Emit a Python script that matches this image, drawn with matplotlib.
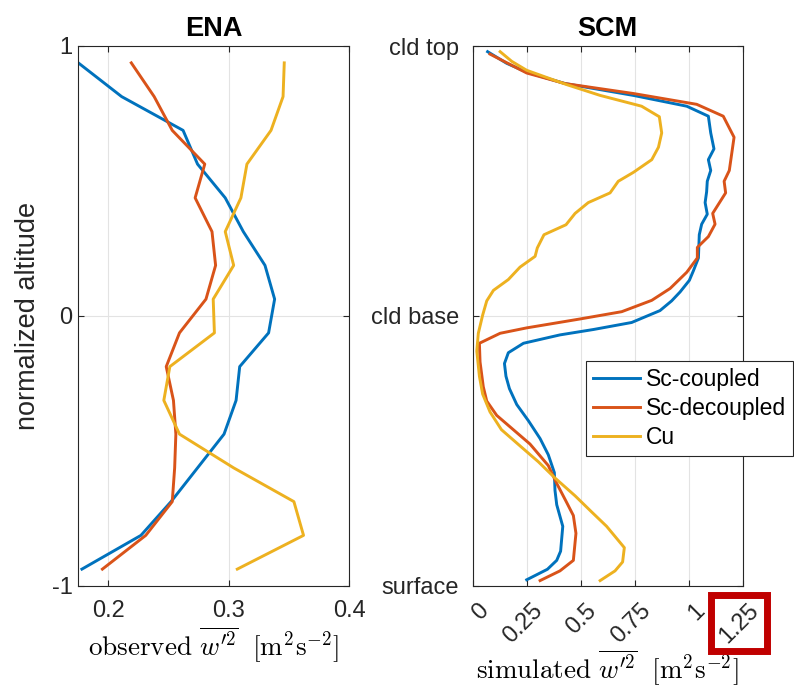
import matplotlib.pyplot as plt
from matplotlib.patches import Rectangle
from matplotlib.transforms import ScaledTranslation

plt.rcParams['font.family'] = ['Liberation Sans', 'DejaVu Sans']
plt.rcParams['mathtext.fontset'] = 'cm'

# colores tipo MATLAB
c_cpl = '#0072BD'
c_dec = '#D95319'
c_cu = '#EDB120'

# ENA: perfiles observados (centros de bin en altura normalizada)
z_obs = [0.9375, 0.8125, 0.6875, 0.5625, 0.4375, 0.3125, 0.1875, 0.0625,
         -0.0625, -0.1875, -0.3125, -0.4375, -0.5625, -0.6875, -0.8125, -0.9375]
obs_cpl = [0.175, 0.211, 0.262, 0.274, 0.297, 0.312, 0.330, 0.338,
           0.333, 0.309, 0.306, 0.296, 0.274, 0.252, 0.227, 0.178]
obs_dec = [0.219, 0.238, 0.253, 0.280, 0.272, 0.286, 0.289, 0.281,
           0.259, 0.248, 0.254, 0.256, 0.255, 0.253, 0.231, 0.195]
obs_cu = [0.346, 0.345, 0.335, 0.315, 0.310, 0.297, 0.304, 0.287,
          0.288, 0.251, 0.246, 0.259, 0.304, 0.354, 0.362, 0.307]

# SCM: perfiles simulados
scm_cpl_z = [0.979, 0.936, 0.903, 0.861, 0.817, 0.777, 0.740, 0.678, 0.619, 0.579,
             0.539, 0.499, 0.460, 0.420, 0.377, 0.340, 0.301, 0.215, 0.168, 0.132,
             0.089, 0.056, 0.020, -0.024, -0.050, -0.070, -0.101, -0.136, -0.176,
             -0.223, -0.269, -0.328, -0.388, -0.454, -0.514, -0.580, -0.646, -0.699,
             -0.779, -0.871, -0.905, -0.938, -0.977]
scm_cpl = [0.069, 0.157, 0.250, 0.427, 0.744, 0.991, 1.091, 1.102, 1.117, 1.091,
           1.102, 1.086, 1.083, 1.076, 1.086, 1.060, 1.049, 1.045, 1.022, 1.003,
           0.960, 0.921, 0.867, 0.736, 0.559, 0.404, 0.235, 0.165, 0.147,
           0.154, 0.170, 0.204, 0.258, 0.312, 0.350, 0.378, 0.381, 0.389,
           0.417, 0.407, 0.389, 0.346, 0.250]

scm_dec_z = [0.970, 0.900, 0.861, 0.824, 0.784, 0.740, 0.662, 0.539, 0.499, 0.456,
             0.380, 0.340, 0.294, 0.254, 0.215, 0.162, 0.102, 0.058, 0.016, -0.011,
             -0.044, -0.064, -0.101, -0.170, -0.262, -0.315, -0.368, -0.421, -0.474,
             -0.554, -0.620, -0.686, -0.739, -0.805, -0.905, -0.944, -0.980]
scm_dec = [0.080, 0.250, 0.427, 0.744, 1.037, 1.160, 1.210, 1.188, 1.164, 1.171,
           1.111, 1.122, 1.091, 1.040, 1.040, 0.991, 0.914, 0.829, 0.690, 0.497,
           0.250, 0.127, 0.031, 0.034, 0.049, 0.065, 0.111, 0.188, 0.265,
           0.350, 0.389, 0.432, 0.466, 0.478, 0.466, 0.404, 0.312]

scm_cu_z = [0.979, 0.943, 0.910, 0.857, 0.817, 0.777, 0.738, 0.678, 0.625, 0.579,
            0.532, 0.499, 0.456, 0.420, 0.380, 0.338, 0.301, 0.252, 0.221, 0.181,
            0.135, 0.095, 0.056, 0.003, -0.064, -0.130, -0.223, -0.289, -0.355,
            -0.421, -0.481, -0.540, -0.600, -0.666, -0.726, -0.779, -0.858, -0.911,
            -0.944, -0.980]
scm_cu = [0.127, 0.181, 0.250, 0.435, 0.590, 0.782, 0.864, 0.875, 0.860, 0.829,
          0.744, 0.674, 0.636, 0.535, 0.474, 0.432, 0.330, 0.299, 0.289, 0.219,
          0.165, 0.096, 0.065, 0.046, 0.026, 0.019, 0.031, 0.046, 0.080,
          0.133, 0.219, 0.304, 0.381, 0.474, 0.551, 0.620, 0.702, 0.694,
          0.659, 0.590]

etiquetas = ['Sc-coupled', 'Sc-decoupled', 'Cu']
ticks_obs = [0.2, 0.3, 0.4]
ticks_scm = [0, 0.25, 0.5, 0.75, 1, 1.25]
ticklab_scm = ['0', '0.25', '0.5', '0.75', '1', '1.25']
ylab_scm = ['surface', 'cld base', 'cld top']

fs_tick = 17     # tamaño de los números de los ejes
fs_lab = 19.5    # etiquetas y títulos
gris = '#262626'

W, H = 794, 688
fig = plt.figure(figsize=(W / 100, H / 100), dpi=100)
ax1 = fig.add_axes([78.3 / W, 1 - 586 / H, 271 / W, 540 / H])
ax2 = fig.add_axes([472.7 / W, 1 - 586 / H, 270 / W, 540 / H])

lw = 2.1
ax1.plot(obs_cpl, z_obs, color=c_cpl, lw=lw)
ax1.plot(obs_dec, z_obs, color=c_dec, lw=lw)
ax1.plot(obs_cu, z_obs, color=c_cu, lw=lw)

l1, = ax2.plot(scm_cpl, scm_cpl_z, color=c_cpl, lw=lw)
l2, = ax2.plot(scm_dec, scm_dec_z, color=c_dec, lw=lw)
l3, = ax2.plot(scm_cu, scm_cu_z, color=c_cu, lw=lw)

for ax in (ax1, ax2):
    ax.set_ylim(-1, 1)
    ax.set_yticks([-1, 0, 1])
    ax.grid(True, color='#e3e3e3', lw=0.8)
    ax.set_axisbelow(True)
    ax.tick_params(direction='in', top=True, right=True, length=4, width=0.8,
                   color=gris, labelsize=fs_tick, labelcolor=gris)
    for s in ax.spines.values():
        s.set_color(gris)
        s.set_linewidth(0.8)

ax1.set_xlim(0.175, 0.4)
ax1.set_xticks(ticks_obs)
ax1.set_yticklabels(['-1', '0', '1'])
ax1.tick_params(axis='x', pad=10)
ax1.tick_params(axis='y', pad=4)
ax1.set_ylabel('normalized altitude', fontsize=fs_lab, color=gris, labelpad=8)
ax1.set_xlabel(r'$\mathrm{observed}\ \overline{w^{\prime 2}}\ \ [\mathrm{m^2 s^{-2}}]$',
               fontsize=fs_lab, labelpad=2)
ax1.set_title('ENA', fontsize=fs_lab, fontweight='bold', pad=7)

ax2.set_xlim(0, 1.25)
ax2.set_xticks(ticks_scm)
ax2.set_xticklabels(ticklab_scm, rotation=45, ha='right', va='top',
                    rotation_mode='anchor')
ax2.tick_params(axis='x', pad=9)
ax2.tick_params(axis='y', pad=10)
ax2.set_yticklabels(ylab_scm)
# corro un poco las etiquetas giradas hacia la derecha
desp = ScaledTranslation(5 / 100, -1 / 100, fig.dpi_scale_trans)
for t in ax2.get_xticklabels():
    t.set_transform(t.get_transform() + desp)
ax2.set_xlabel(r'$\mathrm{simulated}\ \overline{w^{\prime 2}}\ \ [\mathrm{m^2 s^{-2}}]$',
               fontsize=fs_lab, labelpad=0)
ax2.set_title('SCM', fontsize=fs_lab, fontweight='bold', pad=7)

leg = fig.legend([l1, l2, l3], etiquetas, loc='upper left',
                 bbox_to_anchor=(586 / W, 1 - 361 / H), bbox_transform=fig.transFigure,
                 borderaxespad=0, fancybox=False, fontsize=16.5, handlelength=2.05,
                 handletextpad=0.25, labelspacing=0.26, borderpad=0.3)
leg.get_frame().set_edgecolor(gris)
leg.get_frame().set_linewidth(0.8)
leg.get_frame().set_alpha(1)

# recuadro rojo alrededor de la etiqueta 1.25
fig.canvas.draw()
rend = fig.canvas.get_renderer()
lab = ax2.get_xticklabels()[-1]
bb = lab.get_window_extent(rend).transformed(fig.transFigure.inverted())
px, py = 4 / W, 4 / H
rect = Rectangle((bb.x0 - px, bb.y0 - py), bb.width + 2 * px, bb.height + 2 * py,
                 transform=fig.transFigure, fill=False, edgecolor='#C00000', lw=5,
                 clip_on=False)
fig.patches.append(rect)

fig.savefig('out.png', dpi=100)
